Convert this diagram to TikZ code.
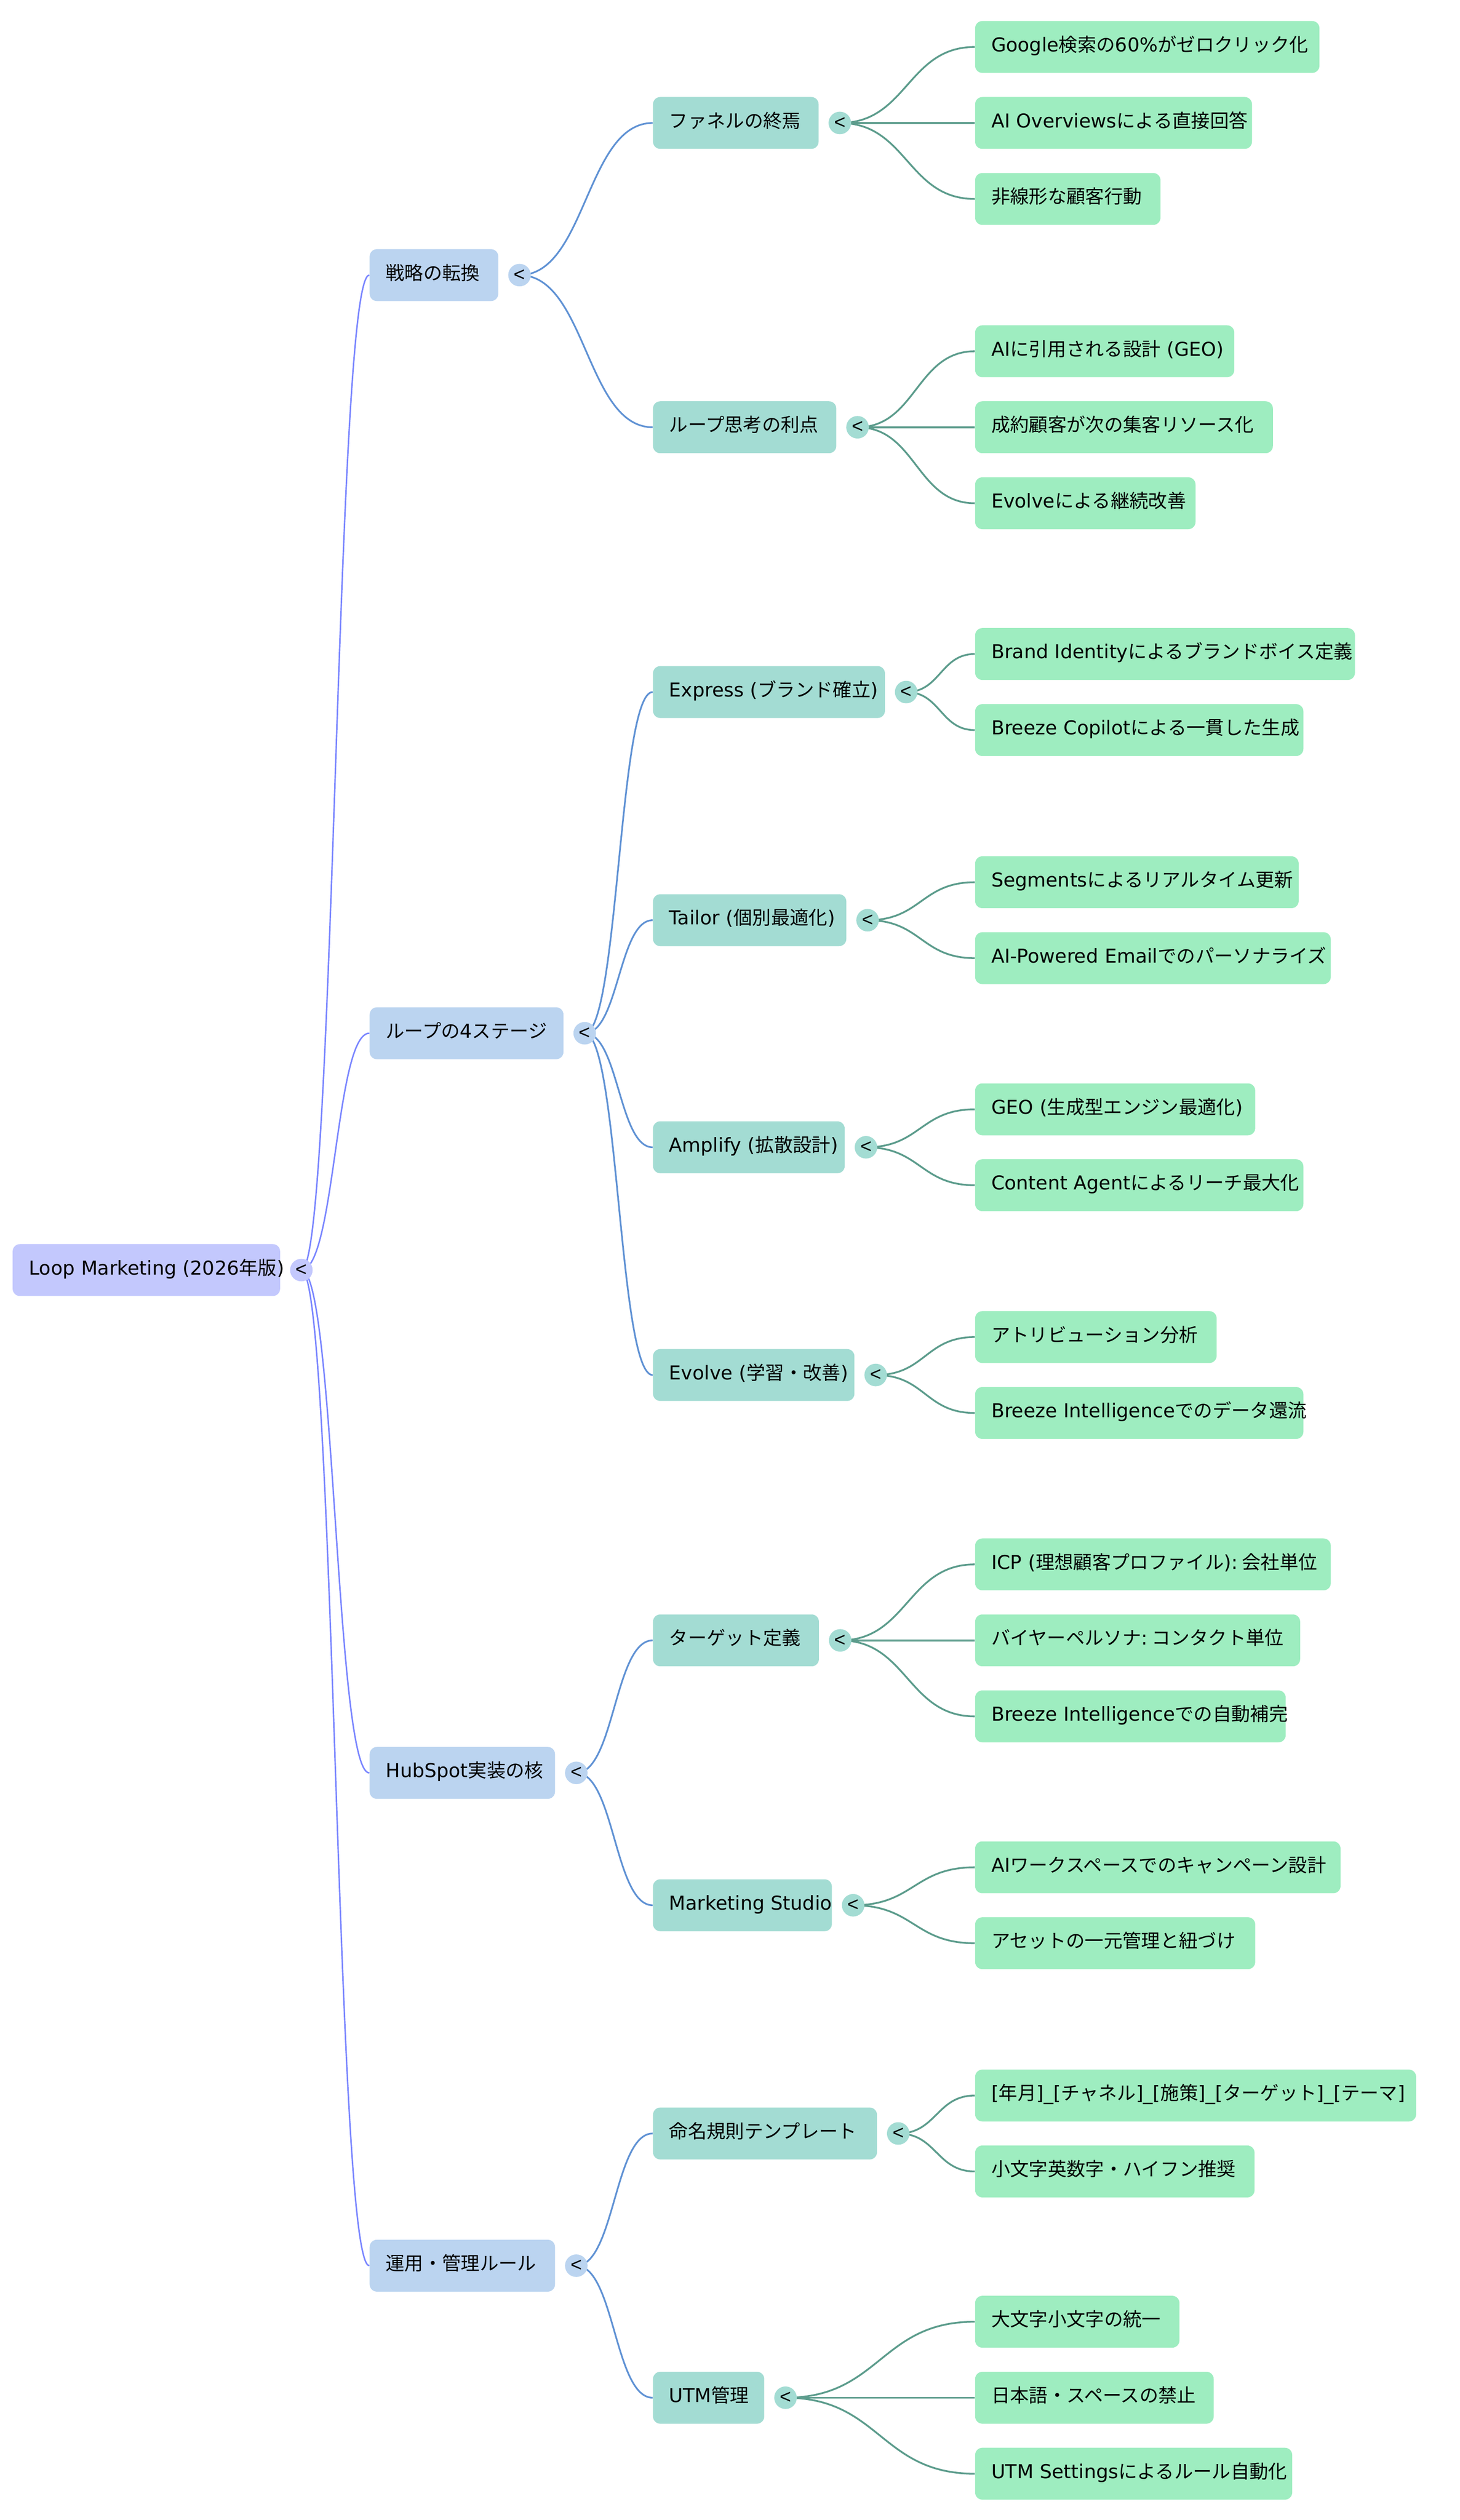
\documentclass[tikz,border=0pt]{standalone}
\usepackage{fontspec}
\setmainfont{DejaVu Sans}
\newfontfamily\jp{Noto Sans CJK JP}[Scale=0.983]
\newfontfamily\lib{Liberation Sans}
\usetikzlibrary{calc}
\pgfdeclarelayer{bg}
\pgfsetlayers{bg,main}
\newcommand\J[1]{{\jp #1}}
\definecolor{rootfill}{RGB}{195,200,253}
\definecolor{lonefill}{RGB}{187,212,240}
\definecolor{ltwofill}{RGB}{163,220,211}
\definecolor{lthreefill}{RGB}{158,237,192}
\definecolor{ezero}{RGB}{122,134,255}
\definecolor{eone}{RGB}{96,146,212}
\definecolor{etwo}{RGB}{92,156,140}
\tikzset{
  bx/.style={rectangle, rounded corners=4.5pt, inner xsep=10pt, inner ysep=0pt,
    minimum height=32pt, text height=8.6pt, text depth=2.9pt, anchor=west,
    align=left, font=\fontsize{11.8}{14}\selectfont},
  rootbox/.style={bx, fill=rootfill},
  lone/.style={bx, fill=lonefill},
  ltwo/.style={bx, fill=ltwofill},
  lthree/.style={bx, fill=lthreefill},
  circ/.style={circle, inner sep=0pt, minimum size=13.9pt, font=\lib\fontsize{12}{13}\selectfont},
  ez/.style={draw=ezero, line width=0.9pt},
  eo/.style={draw=eone, line width=1.05pt},
  et/.style={draw=etwo, line width=1.1pt},
}
\newcommand\bxn[6]{\node[#1, text width={#5pt-20pt}] (#2) at (#3,#4) {\mbox{#6}};}
\newcommand\lnk[3]{%
  \coordinate (lkm) at ($(#2.center)!0.5!(#3.west)$);
  \draw[#1] (#2.center) .. controls (lkm |- #2.center) and (lkm |- #3.west) .. (#3.west);}
\begin{document}
\begin{tikzpicture}[x=1pt,y=-1pt]
\useasboundingbox (0,0) rectangle (900,1553.6);
% root
\bxn{rootbox}{r}{7.6}{783.0}{164.9}{Loop Marketing (2026\J{年版})}
% level 1
\bxn{lone}{a1}{227.7}{169.6}{79.3}{\J{戦略の転換}}
\bxn{lone}{a2}{227.7}{637.0}{119.5}{\J{ループの}4\J{ステージ}}
\bxn{lone}{a3}{227.7}{1093.0}{114.3}{HubSpot\J{実装の核}}
\bxn{lone}{a4}{227.7}{1396.8}{114.3}{\J{運用・管理ルール}}
% level 2
\bxn{ltwo}{b1}{402.4}{75.8}{102.1}{\J{ファネルの終焉}}
\bxn{ltwo}{b2}{402.4}{263.4}{113.0}{\J{ループ思考の利点}}
\bxn{ltwo}{b3}{402.4}{426.65}{143.0}{Express (\J{ブランド確立})}
\bxn{ltwo}{b4}{402.4}{567.3}{119.2}{Tailor (\J{個別最適化})}
\bxn{ltwo}{b5}{402.4}{707.3}{118.2}{Amplify (\J{拡散設計})}
\bxn{ltwo}{b6}{402.4}{847.7}{124.2}{Evolve (\J{学習・改善})}
\bxn{ltwo}{b7}{402.4}{1011.3}{102.3}{\J{ターゲット定義}}
\bxn{ltwo}{b8}{402.4}{1174.6}{110.3}{Marketing Studio}
\bxn{ltwo}{b9}{402.4}{1315.3}{138.1}{\J{命名規則テンプレート}}
\bxn{ltwo}{b10}{402.4}{1478.2}{68.6}{UTM\J{管理}}
% level 3
\bxn{lthree}{d1}{601}{28.95}{212.3}{Google\J{検索の}60\%\J{がゼロクリック化}}
\bxn{lthree}{d2}{601}{75.8}{170.7}{AI Overviews\J{による直接回答}}
\bxn{lthree}{d3}{601}{122.65}{114.3}{\J{非線形な顧客行動}}
\bxn{lthree}{d4}{601}{216.55}{159.8}{AI\J{に引用される設計} (GEO)}
\bxn{lthree}{d5}{601}{263.4}{183.6}{\J{成約顧客が次の集客リソース化}}
\bxn{lthree}{d6}{601}{310.25}{135.9}{Evolve\J{による継続改善}}
\bxn{lthree}{d7}{601}{403.2}{234.2}{Brand Identity\J{によるブランドボイス定義}}
\bxn{lthree}{d8}{601}{450.1}{202.4}{Breeze Copilot\J{による一貫した生成}}
\bxn{lthree}{d9}{601}{543.9}{199.5}{Segments\J{によるリアルタイム更新}}
\bxn{lthree}{d10}{601}{590.7}{219.3}{AI-Powered Email\J{でのパーソナライズ}}
\bxn{lthree}{d11}{601}{683.9}{172.7}{GEO (\J{生成型エンジン最適化})}
\bxn{lthree}{d12}{601}{730.7}{202.4}{Content Agent\J{によるリーチ最大化}}
\bxn{lthree}{d13}{601}{824.3}{148.9}{\J{アトリビューション分析}}
\bxn{lthree}{d14}{601}{871.1}{202.4}{Breeze Intelligence\J{でのデータ還流}}
\bxn{lthree}{d15}{601}{964.45}{219.3}{ICP (\J{理想顧客プロファイル}):\hspace{0.22em}\J{会社単位}}
\bxn{lthree}{d16}{601}{1011.3}{200.4}{\J{バイヤーペルソナ}:\hspace{0.22em}\J{コンタクト単位}}
\bxn{lthree}{d17}{601}{1058.15}{191.5}{Breeze Intelligence\J{での自動補完}}
\bxn{lthree}{d18}{601}{1151.2}{225.3}{AI\J{ワークスペースでのキャンペーン設計}}
\bxn{lthree}{d19}{601}{1198.0}{172.7}{\J{アセットの一元管理と紐づけ}}
\bxn{lthree}{d20}{601}{1291.9}{271.9}{[\J{年月}]\_[\J{チャネル}]\_[\J{施策}]\_[\J{ターゲット}]\_[\J{テーマ}]}
\bxn{lthree}{d21}{601}{1338.7}{172.3}{\J{小文字英数字・ハイフン推奨}}
\bxn{lthree}{d22}{601}{1431.35}{126.0}{\J{大文字小文字の統一}}
\bxn{lthree}{d23}{601}{1478.2}{147.1}{\J{日本語・スペースの禁止}}
\bxn{lthree}{d24}{601}{1525.05}{195.5}{UTM Settings\J{によるルール自動化}}
% collapse circles
\node[circ, fill=rootfill] (cr) at ([xshift=12.9pt]r.east) {<};
\node[circ, fill=lonefill] (ca1) at ([xshift=12.9pt]a1.east) {<};
\node[circ, fill=lonefill] (ca2) at ([xshift=12.9pt]a2.east) {<};
\node[circ, fill=lonefill] (ca3) at ([xshift=12.9pt]a3.east) {<};
\node[circ, fill=lonefill] (ca4) at ([xshift=12.9pt]a4.east) {<};
\node[circ, fill=ltwofill] (cb1) at ([xshift=12.9pt]b1.east) {<};
\node[circ, fill=ltwofill] (cb2) at ([xshift=12.9pt]b2.east) {<};
\node[circ, fill=ltwofill] (cb3) at ([xshift=12.9pt]b3.east) {<};
\node[circ, fill=ltwofill] (cb4) at ([xshift=12.9pt]b4.east) {<};
\node[circ, fill=ltwofill] (cb5) at ([xshift=12.9pt]b5.east) {<};
\node[circ, fill=ltwofill] (cb6) at ([xshift=12.9pt]b6.east) {<};
\node[circ, fill=ltwofill] (cb7) at ([xshift=12.9pt]b7.east) {<};
\node[circ, fill=ltwofill] (cb8) at ([xshift=12.9pt]b8.east) {<};
\node[circ, fill=ltwofill] (cb9) at ([xshift=12.9pt]b9.east) {<};
\node[circ, fill=ltwofill] (cb10) at ([xshift=12.9pt]b10.east) {<};
% connectors
\begin{pgfonlayer}{bg}
\lnk{ez}{cr}{a1}
\lnk{ez}{cr}{a2}
\lnk{ez}{cr}{a3}
\lnk{ez}{cr}{a4}
\lnk{eo}{ca1}{b1}
\lnk{eo}{ca1}{b2}
\lnk{eo}{ca2}{b3}
\lnk{eo}{ca2}{b4}
\lnk{eo}{ca2}{b5}
\lnk{eo}{ca2}{b6}
\lnk{eo}{ca3}{b7}
\lnk{eo}{ca3}{b8}
\lnk{eo}{ca4}{b9}
\lnk{eo}{ca4}{b10}
\lnk{et}{cb1}{d1}
\lnk{et}{cb1}{d2}
\lnk{et}{cb1}{d3}
\lnk{et}{cb2}{d4}
\lnk{et}{cb2}{d5}
\lnk{et}{cb2}{d6}
\lnk{et}{cb3}{d7}
\lnk{et}{cb3}{d8}
\lnk{et}{cb4}{d9}
\lnk{et}{cb4}{d10}
\lnk{et}{cb5}{d11}
\lnk{et}{cb5}{d12}
\lnk{et}{cb6}{d13}
\lnk{et}{cb6}{d14}
\lnk{et}{cb7}{d15}
\lnk{et}{cb7}{d16}
\lnk{et}{cb7}{d17}
\lnk{et}{cb8}{d18}
\lnk{et}{cb8}{d19}
\lnk{et}{cb9}{d20}
\lnk{et}{cb9}{d21}
\lnk{et}{cb10}{d22}
\lnk{et}{cb10}{d23}
\lnk{et}{cb10}{d24}
\end{pgfonlayer}
\end{tikzpicture}
\end{document}
